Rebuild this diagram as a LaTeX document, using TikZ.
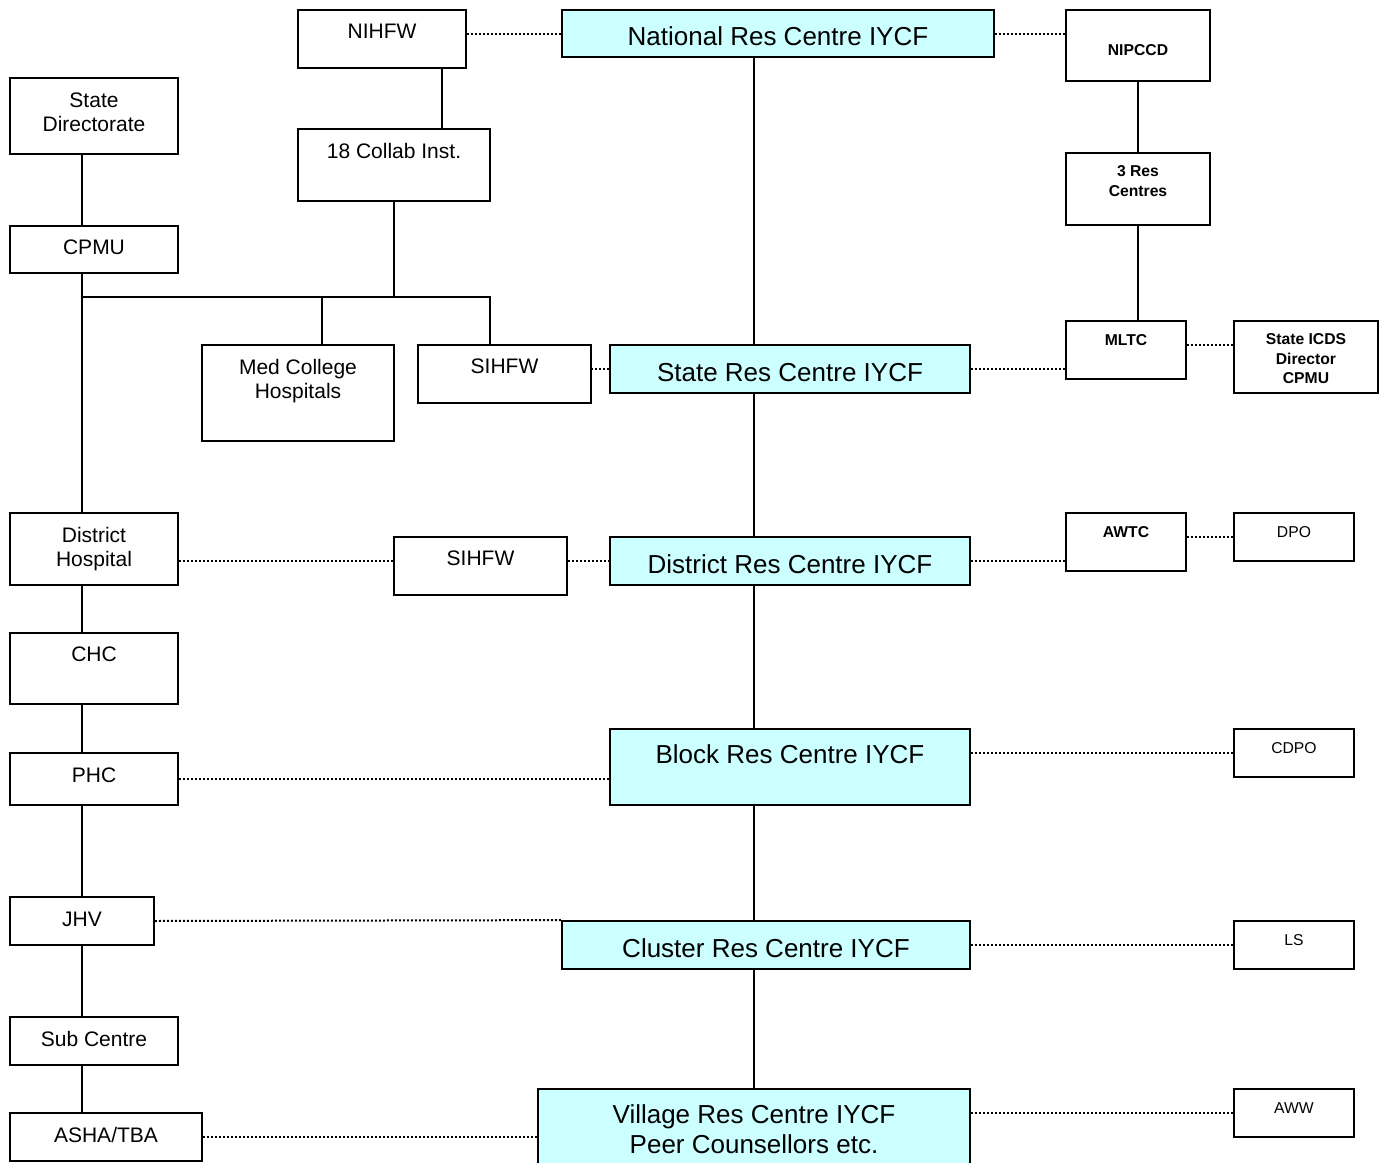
\documentclass[tikz,border=0pt]{standalone}
\usepackage{fontspec}
\setmainfont{Liberation Sans}
\definecolor{rescyan}{HTML}{CCFFFF}
\tikzset{
  box/.style={draw, line width=0.9pt, fill=white, inner sep=0pt},
  bigtxt/.style={font=\fontsize{13}{15}\selectfont, align=center, inner sep=0pt},
  txt/.style={font=\fontsize{10.5}{12}\selectfont, align=center, inner sep=0pt},
  smalltxt/.style={font=\fontsize{7.85}{9.6}\selectfont, align=center, inner sep=0pt},
  boldtxt/.style={font=\bfseries\fontsize{7.85}{9.6}\selectfont, align=center, inner sep=0pt},
  rescentre/.style={box, fill=rescyan, bigtxt, text height=12.5pt},
  toptxt/.style={anchor=north, yshift=#1},
  link/.style={line width=0.9pt},
  dotlink/.style={line width=1pt, dash pattern=on 1pt off 1pt},
}
\begin{document}
\begin{tikzpicture}[x=0.5pt, y=-0.5pt]
    \useasboundingbox (0,0) rectangle (1389,1163);
    \clip (0,0) rectangle (1389,1163);
    \coordinate (spine) at (754,0) ;
    \coordinate (lspine) at (82,0) ;
    \coordinate (bus) at (0,297) ;
    \coordinate (nx) at (442,0) ;
    \coordinate (mx) at (322,0) ;
    \coordinate (sx) at (490,0) ;

    % national level
    \node[box, minimum width=84pt, minimum height=29pt, label={[txt, toptxt=-7.25pt]north:NIHFW}] (nihfw) at (382,39) {};
    \node[rescentre, minimum width=216pt, minimum height=23.5pt] (national) at (778,33.5) {National Res Centre IYCF};
    \node[box, boldtxt, text height=9.6pt, minimum width=72pt, minimum height=35.5pt] (nipccd) at (1138,45.5) {NIPCCD};
    \node[box, minimum width=84pt, minimum height=38pt, label={[txt, toptxt=-7.8pt]north:State\\Directorate}] (sdir) at (94,116) {};
    \node[box, minimum width=96pt, minimum height=36pt, label={[txt, toptxt=-7.5pt]north:18 Collab Inst.}] (collab) at (394,165) {};
    \node[box, minimum width=72pt, minimum height=36pt, label={[boldtxt, toptxt=-6.7pt]north:3 Res\\Centres}] (res3) at (1138,189) {};
    \node[box, txt, text depth=2pt, minimum width=84pt, minimum height=23.5pt] (cpmu) at (94,249.5) {CPMU};

    % state level
    \node[box, minimum width=96pt, minimum height=48pt, label={[txt, toptxt=-7.5pt]north:Med College\\Hospitals}] (medcol) at (298,393) {};
    \node[box, minimum width=86.5pt, minimum height=29pt, label={[txt, toptxt=-7.25pt]north:SIHFW}] (sihfw1) at (504.5,374) {};
    \node[rescentre, minimum width=180pt, minimum height=24pt] (stateres) at (790,369) {State Res Centre IYCF};
    \node[box, minimum width=60pt, minimum height=29pt, label={[boldtxt, toptxt=-7.2pt]north:MLTC}] (mltc) at (1126,350) {};
    \node[box, minimum width=72pt, minimum height=36pt, label={[boldtxt, toptxt=-6.7pt]north:State ICDS\\Director\\CPMU}] (icds) at (1306,357) {};

    % district level
    \node[box, txt, minimum width=84pt, minimum height=36pt] (dhosp) at (94,549) {District\\Hospital};
    \node[box, minimum width=86.5pt, minimum height=29pt, label={[txt, toptxt=-7.25pt]north:SIHFW}] (sihfw2) at (480.5,566) {};
    \node[rescentre, minimum width=180pt, minimum height=24pt] (distres) at (790,561) {District Res Centre IYCF};
    \node[box, minimum width=60pt, minimum height=29pt, label={[boldtxt, toptxt=-7.2pt]north:AWTC}] (awtc) at (1126,542) {};
    \node[box, minimum width=60pt, minimum height=24pt, label={[smalltxt, toptxt=-7.2pt]north:DPO}] (dpo) at (1294,537) {};

    % block level
    \node[box, minimum width=84pt, minimum height=35.5pt, label={[txt, toptxt=-7.25pt]north:CHC}] (chc) at (94,668.5) {};
    \node[box, txt, text depth=4pt, minimum width=84pt, minimum height=26pt] (phc) at (94,779) {PHC};
    \node[box, fill=rescyan, minimum width=180pt, minimum height=38pt, label={[bigtxt, toptxt=-8.3pt]north:Block Res Centre IYCF}] (blockres) at (790,767) {};
    \node[box, minimum width=60pt, minimum height=24pt, label={[smalltxt, toptxt=-7.2pt]north:CDPO}] (cdpo) at (1294,753) {};

    % cluster level
    \node[box, txt, text depth=2pt, minimum width=72pt, minimum height=24pt] (jhv) at (82,921) {JHV};
    \node[rescentre, minimum width=204pt, minimum height=24pt] (clusterres) at (766,945) {Cluster Res Centre IYCF};
    \node[box, minimum width=60pt, minimum height=24pt, label={[smalltxt, toptxt=-7.2pt]north:LS}] (ls) at (1294,945) {};

    % village level
    \node[box, txt, text depth=2pt, minimum width=84pt, minimum height=24pt] (subc) at (94,1041) {Sub Centre};
    \node[box, txt, text depth=2pt, minimum width=96pt, minimum height=24pt] (asha) at (106,1137) {ASHA/TBA};
    \node[box, fill=rescyan, minimum width=216pt, minimum height=43pt, label={[bigtxt, toptxt=-8.3pt]north:Village Res Centre IYCF\\Peer Counsellors etc.}] (villres) at (754,1132) {};
    \node[box, minimum width=60pt, minimum height=24pt, label={[smalltxt, toptxt=-7.2pt]north:AWW}] (aww) at (1294,1113) {};

    % main chain of res centres
    \draw[link] (national.south -| spine) -- (stateres.north -| spine);
    \draw[link] (stateres.south -| spine) -- (distres.north -| spine);
    \draw[link] (distres.south -| spine) -- (blockres.north -| spine);
    \draw[link] (blockres.south -| spine) -- (clusterres.north -| spine);
    \draw[link] (clusterres.south -| spine) -- (villres.north -| spine);

    % health side
    \draw[link] (sdir.south -| lspine) -- (cpmu.north -| lspine);
    \draw[link] (cpmu.south -| lspine) -- (dhosp.north -| lspine);
    \draw[link] (dhosp.south -| lspine) -- (chc.north -| lspine);
    \draw[link] (chc.south -| lspine) -- (phc.north -| lspine);
    \draw[link] (phc.south -| lspine) -- (jhv.north -| lspine);
    \draw[link] (jhv.south -| lspine) -- (subc.north -| lspine);
    \draw[link] (subc.south -| lspine) -- (asha.north -| lspine);
    \draw[link] (nihfw.south -| nx) -- (collab.north -| nx);
    \draw[link] (collab.south) -- (collab.south |- bus);
    \draw[link] (lspine |- bus) -| (sihfw1.north -| sx);
    \draw[link] (mx |- bus) -- (medcol.north -| mx);

    % icds side
    \draw[link] (nipccd) -- (res3);
    \draw[link] (res3.south) -- (mltc.north -| res3.south);

    % dotted links
    \draw[dotlink] (national.west) -- (national.west -| nihfw.east);
    \draw[dotlink] (national.east) -- (national.east -| nipccd.west);
    \draw[dotlink] (stateres.west) -- (stateres.west -| sihfw1.east);
    \draw[dotlink] (stateres.east) -- (stateres.east -| mltc.west);
    \draw[dotlink] ([yshift=2.5pt]mltc.east) -- ([yshift=2.5pt]mltc.east -| icds.west);
    \draw[dotlink] (distres.west -| dhosp.east) -- (distres.west -| sihfw2.west);
    \draw[dotlink] (distres.west -| sihfw2.east) -- (distres.west);
    \draw[dotlink] (distres.east) -- (distres.east -| awtc.west);
    \draw[dotlink] (dpo.west) -- (dpo.west -| awtc.east);
    \draw[dotlink] (phc.east) -- (phc.east -| blockres.west);
    \draw[dotlink] (cdpo.west) -- (cdpo.west -| blockres.east);
    \draw[dotlink] (jhv.east) -- (clusterres.north west);
    \draw[dotlink] (clusterres.east) -- (ls.west);
    \draw[dotlink] (asha.east) -- (asha.east -| villres.west);
    \draw[dotlink] (aww.west) -- (aww.west -| villres.east);
\end{tikzpicture}
\end{document}
